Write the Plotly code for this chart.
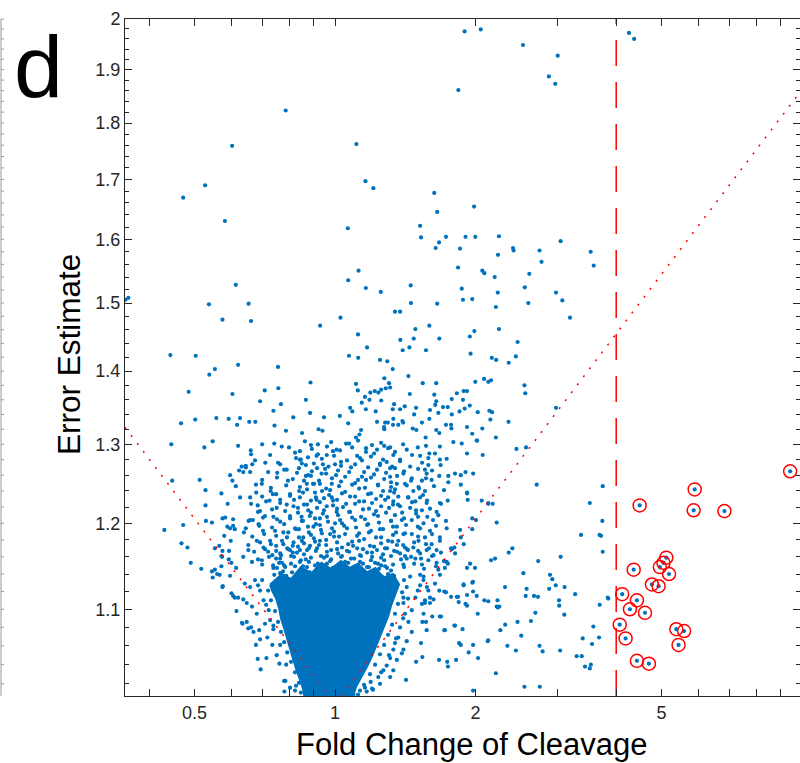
import math
import plotly.graph_objects as go

BLUE = "#0072BD"
RED = "#FF0000"
AXIS = "#262626"
FONT = "Liberation Sans, Arial, Helvetica, sans-serif"

FC_CUT = 4.0          # fold-change cut-off (dashed line)
SLOPE = 0.27          # |log err| = SLOPE * |log fc| (dotted envelope)
X_RANGE = (0.355, 9.9)
Y_RANGE = (1.0075, 2.0)

# ---- scatter data: (fold change, error estimate) ----
far_pts = [
    (9.43, 1.265), (5.89, 1.242), (4.49, 1.222), (5.86, 1.216), (6.82, 1.215),
    (5.12, 1.159), (5.05, 1.153), (4.96, 1.148), (4.36, 1.145), (5.19, 1.140),
    (4.77, 1.128), (4.93, 1.126), (4.12, 1.117), (4.43, 1.110), (4.28, 1.100),
    (4.61, 1.096), (4.07, 1.083), (5.38, 1.078), (5.59, 1.076), (4.19, 1.068),
    (5.44, 1.061), (4.43, 1.044), (4.70, 1.041), (4.26, 1.972), (4.37, 1.960),
]

upper_pts = [
    (0.473, 1.669), (0.527, 1.690), (0.602, 1.759), (0.784, 1.823), (1.111, 1.762),
    (1.162, 1.697), (1.208, 1.685), (1.631, 1.677), (1.837, 1.861), (1.894, 1.975),
    (2.051, 1.979), (2.526, 1.948), (2.998, 1.927), (2.870, 1.887), (2.962, 1.873),
]

mid_pts = [
    (0.356, 1.505), (0.361, 1.508), (0.581, 1.630), (0.613, 1.528), (0.537, 1.498),
    (0.653, 1.499), (0.574, 1.475), (0.661, 1.473), (0.444, 1.423), (0.503, 1.422),
    (0.538, 1.395), (0.553, 1.403), (0.620, 1.409), (0.486, 1.371), (0.603, 1.368),
    (0.468, 1.328), (0.502, 1.333), (0.557, 1.335), (0.592, 1.334), (0.617, 1.326),
    (0.626, 1.335), (0.655, 1.330), (0.675, 1.330), (0.691, 1.358), (0.707, 1.373),
    (0.755, 1.406), (0.756, 1.376), (0.766, 1.354), (0.738, 1.345), (0.742, 1.325),
    (0.785, 1.318), (0.814, 1.336), (0.850, 1.315), (0.866, 1.360), (0.886, 1.384),
    (0.884, 1.342), (0.929, 1.466), (0.947, 1.336), (0.922, 1.320), (0.940, 1.318),
    (1.024, 1.338), (1.027, 1.478), (1.065, 1.618), (1.067, 1.535), (1.123, 1.550),
    (1.120, 1.453), (1.171, 1.434), (1.164, 1.523), (1.253, 1.517), (1.071, 1.422),
    (1.121, 1.419), (1.109, 1.382), (1.119, 1.373), (1.077, 1.349), (1.089, 1.344),
    (1.067, 1.328), (1.109, 1.309), (1.128, 1.313), (1.137, 1.319), (1.159, 1.364),
    (1.190, 1.370), (1.185, 1.360), (1.141, 1.356), (1.164, 1.347), (1.222, 1.344),
    (1.216, 1.372), (1.238, 1.370), (1.255, 1.374), (1.256, 1.359), (1.275, 1.390),
    (1.284, 1.376), (1.305, 1.383), (1.312, 1.377), (1.248, 1.416), (1.294, 1.414),
    (1.329, 1.403), (1.338, 1.354), (1.329, 1.347), (1.280, 1.329), (1.297, 1.329),
    (1.230, 1.330), (1.273, 1.323), (1.275, 1.320), (1.333, 1.334), (1.331, 1.326),
    (1.366, 1.326), (1.394, 1.331), (1.399, 1.329), (1.378, 1.347), (1.410, 1.351),
    (1.446, 1.368), (1.436, 1.393), (1.477, 1.340), (1.491, 1.349), (1.467, 1.321),
    (1.493, 1.319), (1.535, 1.329), (1.344, 1.487), (1.378, 1.487), (1.380, 1.445),
    (1.396, 1.430), (1.443, 1.434), (1.474, 1.447), (1.486, 1.461), (1.454, 1.500),
    (1.452, 1.527), (1.521, 1.622), (1.528, 1.603), (1.655, 1.645), (1.642, 1.586),
    (1.670, 1.595), (1.728, 1.604), (1.592, 1.466), (1.566, 1.430), (1.672, 1.447),
    (1.655, 1.499), (1.541, 1.383), (1.647, 1.383), (1.631, 1.367), (1.647, 1.358),
    (1.639, 1.353), (1.597, 1.346), (1.664, 1.342), (1.703, 1.350), (1.743, 1.350),
    (1.592, 1.334), (1.563, 1.309), (1.647, 1.319), (1.672, 1.315), (1.728, 1.326),
    (1.772, 1.326), (1.778, 1.340), (1.775, 1.321), (1.778, 1.361), (1.823, 1.369),
    (1.847, 1.344), (1.885, 1.372), (1.917, 1.372), (1.879, 1.360), (1.943, 1.352),
    (1.895, 1.348), (1.917, 1.323), (1.967, 1.314), (2.021, 1.343), (2.067, 1.321),
    (2.014, 1.305), (1.997, 1.385), (2.085, 1.389), (2.129, 1.385), (2.158, 1.387),
    (2.140, 1.345), (2.169, 1.343), (2.151, 1.333), (2.210, 1.309), (2.166, 1.419),
    (2.213, 1.416), (1.951, 1.425), (1.944, 1.450), (1.988, 1.458), (1.834, 1.555),
    (1.852, 1.585), (1.868, 1.522), (1.879, 1.505), (1.967, 1.506), (1.903, 1.604),
    (1.985, 1.654), (1.997, 1.604), (2.067, 1.550), (2.088, 1.546), (2.197, 1.540),
    (2.231, 1.516), (2.210, 1.494), (2.244, 1.461), (2.233, 1.575), (2.244, 1.605),
    (2.405, 1.586), (2.412, 1.582), (2.549, 1.524), (2.593, 1.500), (2.606, 1.545),
    (2.741, 1.582), (2.768, 1.564), (2.460, 1.442), (2.439, 1.421), (2.355, 1.412),
    (2.544, 1.380), (2.555, 1.369), (2.352, 1.330), (2.446, 1.294), (2.564, 1.296),
    (2.973, 1.516), (3.067, 1.504), (3.042, 1.597), (3.185, 1.478), (3.527, 1.580),
    (3.580, 1.558), (2.973, 1.349),
]

left_halo_pts = [
    (0.446, 1.300), (0.525, 1.296), (0.547, 1.304), (0.620, 1.298), (0.448, 1.253),
    (0.431, 1.192), (0.473, 1.198), (0.469, 1.176), (0.483, 1.171), (0.491, 1.153),
    (0.517, 1.146), (0.513, 1.254), (0.528, 1.241), (0.528, 1.222), (0.529, 1.203),
    (0.545, 1.201), (0.571, 1.237), (0.589, 1.224), (0.596, 1.260), (0.613, 1.246),
    (0.623, 1.266), (0.644, 1.270), (0.574, 1.206), (0.582, 1.207), (0.588, 1.196),
    (0.605, 1.197), (0.579, 1.185), (0.598, 1.179), (0.553, 1.170), (0.571, 1.161),
    (0.553, 1.145), (0.566, 1.139), (0.575, 1.126), (0.596, 1.138), (0.614, 1.147),
    (0.610, 1.113), (0.615, 1.098), (0.632, 1.085), (0.652, 1.079), (0.660, 1.292),
    (0.661, 1.287), (0.674, 1.279), (0.626, 1.232), (0.683, 1.046), (0.693, 1.035),
    (0.713, 1.047), (0.783, 1.023), (0.779, 1.012), (0.801, 1.016),
    (0.545, 1.143), (0.559, 1.140), (0.547, 1.136), (0.574, 1.125), (0.600, 1.118),
    (0.605, 1.115), (0.620, 1.113), (0.636, 1.111), (0.634, 1.084), (0.647, 1.086),
    (0.661, 1.080), (0.669, 1.075), (0.688, 1.077), (0.691, 1.067), (0.677, 1.061),
    (0.716, 1.069), (0.734, 1.061), (0.750, 1.050), (0.760, 1.041), (0.778, 1.023),
    (0.821, 1.013), (0.647, 1.107), (0.664, 1.103), (0.680, 1.095), (0.641, 1.129),
    (0.658, 1.125), (0.674, 1.133), (0.691, 1.121), (0.703, 1.110), (0.721, 1.099),
    (0.726, 1.088), (0.708, 1.084), (0.738, 1.078),
    (0.698, 1.133), (0.719, 1.121), (0.729, 1.110), (0.744, 1.098), (0.755, 1.086),
    (0.766, 1.075), (0.778, 1.064), (0.790, 1.053), (0.805, 1.043), (0.821, 1.032),
    (0.837, 1.021), (0.845, 1.011), (0.684, 1.127), (0.712, 1.105), (0.738, 1.082),
    (0.763, 1.061), (0.786, 1.040), (0.825, 1.018),
]

right_halo_pts = [
    (2.703, 1.248), (3.512, 1.225), (3.363, 1.186), (3.685, 1.186), (2.219, 1.201),
    (2.129, 1.225), (2.061, 1.228), (2.355, 1.165), (2.397, 1.170), (2.158, 1.156),
    (2.201, 1.158), (1.946, 1.152), (1.994, 1.147), (1.917, 1.237), (1.923, 1.229),
    (1.967, 1.206), (2.004, 1.204), (1.852, 1.192), (1.834, 1.114), (1.840, 1.108),
    (1.885, 1.128), (1.974, 1.131), (1.917, 1.104), (2.021, 1.095), (2.088, 1.110),
    (2.129, 1.109), (2.228, 1.110), (2.219, 1.103), (2.231, 1.102), (2.248, 1.103),
    (2.312, 1.125), (2.314, 1.083), (2.259, 1.077), (2.128, 1.066), (2.339, 1.060),
    (2.459, 1.086), (2.505, 1.071), (2.439, 1.055), (2.531, 1.141), (2.572, 1.123),
    (2.560, 1.115), (2.667, 1.115), (2.720, 1.114), (2.723, 1.155), (2.685, 1.096),
    (2.627, 1.087), (2.741, 1.060), (2.783, 1.054), (2.886, 1.139), (2.919, 1.134),
    (2.969, 1.127), (2.874, 1.123), (3.017, 1.110), (3.020, 1.104), (3.097, 1.094),
    (3.101, 1.125), (3.042, 1.160), (3.267, 1.117), (3.034, 1.055), (3.391, 1.068),
    (3.551, 1.062), (3.574, 1.081), (3.675, 1.069), (3.292, 1.049), (3.375, 1.049),
    (3.430, 1.038), (3.512, 1.036), (3.530, 1.040), (2.210, 1.031), (2.544, 1.017),
    (2.744, 1.017), (1.975, 1.013), (1.933, 1.053), (2.024, 1.047), (1.739, 1.043),
    (1.745, 1.038), (1.816, 1.045), (1.843, 1.063), (1.859, 1.061), (1.801, 1.082),
    (1.875, 1.078), (1.714, 1.077), (1.670, 1.045), (1.686, 1.092), (1.615, 1.092),
    (1.538, 1.086), (1.528, 1.063), (1.491, 1.043), (1.419, 1.024), (1.538, 1.048),
    (1.772, 1.114), (1.823, 1.114), (1.714, 1.120), (1.672, 1.121), (1.573, 1.125),
    (1.558, 1.107), (1.625, 1.111), (1.744, 1.152), (1.719, 1.147), (1.710, 1.155),
    (1.664, 1.145), (1.772, 1.170), (1.801, 1.171), (1.859, 1.183), (1.967, 1.193),
    (3.743, 1.246), (3.736, 1.203), (3.712, 1.185), (3.743, 1.166), (3.837, 1.113),
    (3.848, 1.112), (3.688, 1.105),
    (1.677, 1.139), (1.885, 1.127), (1.968, 1.130), (1.917, 1.116), (1.975, 1.120),
    (2.011, 1.115), (1.903, 1.106), (1.728, 1.119), (1.597, 1.113), (1.677, 1.092),
    (1.807, 1.082), (1.719, 1.077), (1.975, 1.061), (2.123, 1.065), (1.571, 1.077),
    (1.566, 1.086), (1.547, 1.095), (1.597, 1.107), (1.535, 1.106), (1.558, 1.110),
    (1.584, 1.121), (1.521, 1.127), (1.637, 1.129), (1.547, 1.137), (1.521, 1.139),
    (1.436, 1.086), (1.460, 1.075), (1.424, 1.065), (1.401, 1.056), (1.390, 1.052),
    (1.356, 1.045), (1.333, 1.034), (1.312, 1.027), (1.248, 1.020), (1.206, 1.014),
    (1.169, 1.012), (1.401, 1.107), (1.460, 1.099), (1.486, 1.113), (1.504, 1.121),
    (1.547, 1.133), (1.378, 1.080), (1.366, 1.069), (1.344, 1.063), (1.333, 1.056),
    (1.312, 1.047), (1.290, 1.039), (1.269, 1.034), (1.238, 1.027), (1.192, 1.022),
    (1.159, 1.016), (1.131, 1.013), (1.095, 1.009), (1.424, 1.125), (1.448, 1.137),
    (1.401, 1.113), (1.412, 1.095),
    (1.405, 1.133), (1.392, 1.119), (1.364, 1.106), (1.344, 1.095), (1.325, 1.083),
    (1.299, 1.072), (1.274, 1.061), (1.248, 1.051), (1.218, 1.040), (1.188, 1.030),
    (1.154, 1.019), (1.120, 1.009), (1.433, 1.112), (1.399, 1.090), (1.351, 1.068),
    (1.305, 1.050), (1.255, 1.032), (1.200, 1.015),
]

upper_halo_pts = [
    (0.709, 1.276), (0.741, 1.301), (0.769, 1.297), (0.631, 1.271), (0.644, 1.272),
    (0.665, 1.274), (0.636, 1.264), (0.658, 1.264), (0.603, 1.253), (0.605, 1.205),
    (0.596, 1.194), (0.610, 1.193), (0.565, 1.173), (0.574, 1.167), (0.593, 1.167),
    (0.573, 1.160), (0.592, 1.157), (0.600, 1.153), (0.571, 1.149), (0.638, 1.189),
    (0.653, 1.203), (0.667, 1.204), (0.686, 1.199), (0.701, 1.191), (0.708, 1.209),
    (0.691, 1.215), (0.683, 1.222), (0.658, 1.232), (0.678, 1.238), (0.697, 1.249),
    (0.728, 1.240), (0.763, 1.274), (0.752, 1.263), (0.788, 1.267), (0.793, 1.253),
    (0.825, 1.282), (0.841, 1.280), (0.866, 1.273), (0.876, 1.260), (0.901, 1.275),
    (0.913, 1.285), (0.960, 1.286), (0.968, 1.271), (0.936, 1.262), (1.000, 1.274),
    (1.008, 1.293), (0.902, 1.249), (0.870, 1.249), (0.838, 1.240), (0.801, 1.236),
    (0.763, 1.229), (0.736, 1.236), (0.724, 1.228), (0.750, 1.219), (0.788, 1.223),
    (0.815, 1.221), (0.801, 1.206), (0.763, 1.202), (0.738, 1.208), (0.744, 1.191),
    (0.775, 1.189), (0.821, 1.194), (0.848, 1.208), (0.876, 1.216), (0.913, 1.229),
    (0.938, 1.240), (0.984, 1.249), (0.984, 1.232), (0.960, 1.221), (0.928, 1.206),
    (0.899, 1.196), (0.855, 1.183), (0.815, 1.177), (0.775, 1.175), (0.726, 1.179),
    (0.703, 1.171), (0.680, 1.179), (0.652, 1.168), (0.636, 1.160), (0.664, 1.154),
    (0.697, 1.156), (0.734, 1.162), (0.763, 1.164), (0.801, 1.168), (0.841, 1.168),
    (0.884, 1.173), (0.928, 1.179), (0.976, 1.187), (1.000, 1.200), (1.008, 1.214),
    (1.504, 1.296), (1.566, 1.298), (1.677, 1.297), (1.792, 1.303), (1.868, 1.301),
    (2.011, 1.305), (1.917, 1.288), (2.071, 1.286), (1.592, 1.288), (1.637, 1.288),
    (1.521, 1.285), (1.584, 1.282), (1.677, 1.280), (1.734, 1.281), (1.584, 1.273),
    (1.558, 1.267), (1.683, 1.273), (1.807, 1.262), (1.903, 1.264), (1.976, 1.262),
    (1.859, 1.260), (1.748, 1.259), (1.672, 1.259), (1.610, 1.254), (1.748, 1.251),
    (1.859, 1.248), (1.711, 1.241), (1.917, 1.238), (1.743, 1.228), (1.677, 1.225),
    (1.650, 1.214), (1.664, 1.210), (1.728, 1.203), (1.734, 1.194), (2.176, 1.224),
    (2.129, 1.224), (1.886, 1.175), (1.778, 1.169), (1.807, 1.164), (1.677, 1.183),
    (1.650, 1.168), (1.917, 1.147), (1.734, 1.154),
    (1.571, 1.262), (1.535, 1.253), (1.509, 1.245), (1.558, 1.240), (1.521, 1.232),
    (1.571, 1.225), (1.535, 1.216), (1.576, 1.208), (1.547, 1.200), (1.597, 1.191),
    (1.558, 1.183), (1.610, 1.175), (1.571, 1.168), (1.625, 1.162), (1.584, 1.156),
    (1.650, 1.153), (1.424, 1.293), (1.378, 1.280), (1.448, 1.271), (1.401, 1.262),
    (1.460, 1.256), (1.424, 1.247), (1.471, 1.240), (1.436, 1.232), (1.486, 1.227),
    (1.448, 1.219), (1.491, 1.212), (1.460, 1.204), (1.504, 1.196), (1.460, 1.187),
    (1.509, 1.179), (1.471, 1.171), (1.521, 1.164), (1.486, 1.158), (1.535, 1.151),
    (1.312, 1.296), (1.333, 1.286), (1.290, 1.277), (1.344, 1.269), (1.312, 1.258),
    (1.356, 1.249), (1.312, 1.240), (1.366, 1.233), (1.333, 1.227), (1.378, 1.221),
    (1.344, 1.210), (1.390, 1.204), (1.356, 1.196), (1.401, 1.187), (1.366, 1.179),
    (1.412, 1.171), (1.378, 1.164), (1.424, 1.158), (1.401, 1.151),
]

# crowded band above the saturated core, one row of (fold changes, errors) per line
band_rows = [
    ([0.862, 0.919, 0.981, 1.056, 1.120, 1.200, 1.255],
     [1.304, 1.300, 1.303, 1.301, 1.305, 1.299, 1.302]),
    ([0.698, 0.797, 0.888, 0.961, 1.072, 1.165, 1.274, 1.399],
     [1.300, 1.296, 1.299, 1.297, 1.301, 1.295, 1.298, 1.300]),
    ([0.841, 0.892, 1.025, 1.088, 1.165, 1.230, 1.299],
     [1.291, 1.294, 1.292, 1.296, 1.290, 1.293, 1.295]),
    ([0.726, 0.821, 0.919, 0.990, 1.115, 1.212, 1.344, 1.462],
     [1.286, 1.289, 1.287, 1.291, 1.285, 1.288, 1.290, 1.286]),
    ([0.875, 0.937, 0.995, 1.061, 1.131, 1.194, 1.267],
     [1.283, 1.281, 1.285, 1.279, 1.282, 1.284, 1.280]),
    ([0.755, 0.845, 0.942, 1.030, 1.142, 1.248, 1.378, 1.536],
     [1.276, 1.280, 1.274, 1.277, 1.279, 1.275, 1.278, 1.276]),
    ([0.849, 0.915, 1.030, 1.104, 1.177, 1.248, 1.325],
     [1.275, 1.269, 1.272, 1.274, 1.270, 1.273, 1.271]),
    ([0.719, 0.778, 0.837, 0.892, 0.952, 1.015, 1.082, 1.154, 1.230, 1.312, 1.405,
      1.506, 1.613],
     [1.264, 1.267, 1.269, 1.265, 1.268, 1.266, 1.270, 1.264, 1.267, 1.269, 1.265,
      1.268, 1.266]),
    ([0.829, 0.888, 0.957, 1.005, 1.072, 1.142, 1.212, 1.286],
     [1.263, 1.259, 1.262, 1.260, 1.264, 1.258, 1.261, 1.263]),
    ([0.698, 0.751, 0.812, 0.866, 0.924, 0.985, 1.051, 1.120, 1.194, 1.274, 1.358,
      1.455, 1.566],
     [1.254, 1.257, 1.255, 1.259, 1.253, 1.256, 1.258, 1.254, 1.257, 1.255, 1.259,
      1.253, 1.256]),
    ([0.858, 0.928, 1.030, 1.104, 1.165, 1.236, 1.318],
     [1.253, 1.249, 1.252, 1.250, 1.254, 1.248, 1.251]),
    ([0.677, 0.729, 0.786, 0.841, 0.897, 0.957, 1.020, 1.088, 1.159, 1.236, 1.318,
      1.412, 1.513, 1.629],
     [1.248, 1.244, 1.247, 1.245, 1.249, 1.243, 1.246, 1.248, 1.244, 1.247, 1.245,
      1.249, 1.243, 1.246]),
    ([0.871, 0.906, 0.976, 1.051, 1.126, 1.194, 1.267, 1.344],
     [1.242, 1.238, 1.241, 1.239, 1.243, 1.237, 1.240, 1.242]),
    ([0.698, 0.748, 0.801, 0.854, 0.910, 0.971, 1.035, 1.104, 1.177, 1.255, 1.338,
      1.433, 1.543],
     [1.233, 1.236, 1.234, 1.238, 1.232, 1.235, 1.237, 1.233, 1.236, 1.234, 1.238,
      1.232, 1.235]),
    ([0.841, 0.888, 0.947, 1.010, 1.077, 1.154, 1.224, 1.299],
     [1.232, 1.228, 1.231, 1.229, 1.233, 1.227, 1.230, 1.232]),
    ([0.661, 0.712, 0.763, 0.817, 0.871, 0.928, 0.990, 1.056, 1.126, 1.200, 1.280,
      1.364, 1.462, 1.574, 1.686],
     [1.224, 1.227, 1.225, 1.229, 1.223, 1.226, 1.228, 1.224, 1.227, 1.225, 1.229,
      1.223, 1.226, 1.228, 1.224]),
    ([0.858, 0.915, 0.990, 1.040, 1.104, 1.182, 1.255, 1.331],
     [1.223, 1.219, 1.222, 1.220, 1.224, 1.218, 1.221, 1.223]),
    ([0.684, 0.733, 0.782, 0.833, 0.888, 0.947, 1.010, 1.077, 1.148, 1.224, 1.305,
      1.392, 1.491, 1.597],
     [1.214, 1.217, 1.215, 1.219, 1.213, 1.216, 1.218, 1.214, 1.217, 1.215, 1.219,
      1.213, 1.216, 1.218]),
    ([0.833, 0.883, 0.942, 1.015, 1.072, 1.137, 1.212, 1.286],
     [1.213, 1.209, 1.212, 1.210, 1.214, 1.208, 1.211, 1.213]),
    ([0.658, 0.701, 0.751, 0.801, 0.849, 0.906, 0.961, 1.025, 1.088, 1.159, 1.236,
      1.318, 1.405, 1.506, 1.621],
     [1.204, 1.207, 1.205, 1.209, 1.203, 1.206, 1.208, 1.204, 1.207, 1.205, 1.209,
      1.203, 1.206, 1.208, 1.204]),
    ([0.854, 0.910, 0.966, 1.035, 1.104, 1.171, 1.242, 1.318],
     [1.203, 1.199, 1.202, 1.200, 1.204, 1.198, 1.201, 1.203]),
    ([0.644, 0.688, 0.733, 0.778, 0.825, 0.875, 0.928, 0.985, 1.046, 1.109, 1.177,
      1.248, 1.331, 1.419, 1.521, 1.645],
     [1.194, 1.197, 1.195, 1.199, 1.193, 1.196, 1.198, 1.194, 1.197, 1.195, 1.199,
      1.193, 1.196, 1.198, 1.194, 1.197]),
    ([0.837, 0.879, 0.933, 0.995, 1.061, 1.126, 1.194, 1.267, 1.351],
     [1.193, 1.189, 1.192, 1.190, 1.194, 1.188, 1.191, 1.193, 1.189]),
    ([0.665, 0.705, 0.748, 0.794, 0.837, 0.888, 0.937, 0.995, 1.051, 1.115, 1.182,
      1.255, 1.331, 1.412, 1.506, 1.613],
     [1.184, 1.187, 1.185, 1.189, 1.183, 1.186, 1.188, 1.184, 1.187, 1.185, 1.189,
      1.183, 1.186, 1.188, 1.184, 1.187]),
    ([0.789, 0.849, 0.901, 0.957, 1.020, 1.088, 1.154, 1.224, 1.299],
     [1.183, 1.179, 1.182, 1.180, 1.184, 1.178, 1.181, 1.183, 1.179]),
    ([0.652, 0.691, 0.729, 0.770, 0.812, 0.858, 0.906, 0.957, 1.010, 1.067, 1.126,
      1.188, 1.255, 1.325, 1.399, 1.477, 1.566, 1.677],
     [1.174, 1.177, 1.175, 1.179, 1.173, 1.176, 1.178, 1.174, 1.177, 1.175, 1.179,
      1.173, 1.176, 1.178, 1.174, 1.177, 1.175, 1.179]),
    ([0.748, 0.794, 0.833, 0.879, 0.924, 0.981, 1.035, 1.093, 1.148, 1.212, 1.280,
      1.357, 1.433],
     [1.173, 1.169, 1.172, 1.170, 1.174, 1.168, 1.171, 1.173, 1.169, 1.172, 1.170,
      1.174, 1.168]),
    ([0.671, 0.708, 0.748, 0.790, 0.829, 0.871, 0.915, 0.961, 1.010, 1.061, 1.115,
      1.171, 1.230, 1.292, 1.358, 1.426, 1.506, 1.589, 1.686],
     [1.166, 1.169, 1.167, 1.170, 1.165, 1.168, 1.170, 1.166, 1.169, 1.167, 1.170,
      1.165, 1.168, 1.170, 1.166, 1.169, 1.167, 1.170, 1.165]),
    ([0.719, 0.766, 0.812, 0.858, 0.910, 0.961, 1.015, 1.072, 1.131, 1.200, 1.267,
      1.338, 1.412],
     [1.166, 1.162, 1.165, 1.163, 1.167, 1.161, 1.164, 1.166, 1.162, 1.165, 1.163,
      1.167, 1.161]),
    ([0.684, 0.722, 0.763, 0.805, 0.845, 0.888, 0.933, 0.981, 1.030, 1.082, 1.137,
      1.194, 1.255, 1.318, 1.385, 1.455, 1.528, 1.613],
     [1.157, 1.160, 1.158, 1.161, 1.156, 1.159, 1.161, 1.157, 1.160, 1.158, 1.161,
      1.156, 1.159, 1.161, 1.157, 1.160, 1.158, 1.161]),
    ([0.748, 0.770, 0.817, 0.841, 0.866, 0.919, 0.947, 0.976, 1.035, 1.067, 1.099,
      1.131, 1.200, 1.236, 1.274],
     [1.158, 1.153, 1.160, 1.154, 1.157, 1.152, 1.159, 1.155, 1.161, 1.153, 1.158,
      1.154, 1.160, 1.152, 1.156]),
    ([0.737, 0.759, 0.782, 0.805, 0.854, 0.879, 0.906, 0.961, 0.990, 1.020, 1.051,
      1.115, 1.148, 1.182, 1.218, 1.255, 1.292, 1.331],
     [1.150, 1.153, 1.148, 1.152, 1.149, 1.154, 1.150, 1.152, 1.147, 1.151, 1.154,
      1.149, 1.152, 1.148, 1.153, 1.150, 1.147, 1.151]),
    ([0.698, 0.738, 0.778, 1.405, 1.477, 1.551, 1.645],
     [1.151, 1.147, 1.150, 1.148, 1.152, 1.146, 1.149]),
    ([0.751, 0.774, 0.821, 0.845, 0.871, 0.924, 0.952, 0.981, 1.010, 1.040, 1.104,
      1.137, 1.171, 1.206, 1.242, 1.280, 1.318],
     [1.147, 1.143, 1.149, 1.144, 1.148, 1.145, 1.150, 1.143, 1.147, 1.145, 1.149,
      1.144, 1.148, 1.143, 1.146, 1.149, 1.144]),
    ([0.741, 0.763, 0.786, 0.809, 0.833, 0.858, 0.883, 0.910, 0.937, 0.966, 0.995,
      1.025, 1.056, 1.088, 1.120, 1.154, 1.188, 1.224, 1.261, 1.299, 1.338],
     [1.139, 1.141, 1.138, 1.142, 1.137, 1.140, 1.142, 1.138, 1.141, 1.139, 1.142,
      1.137, 1.140, 1.142, 1.138, 1.141, 1.139, 1.142, 1.137, 1.140, 1.138]),
]

# outline of the fully saturated core of the cloud
core_fc = [0.726, 0.770, 0.805, 0.845, 0.890, 0.935, 0.980, 1.030, 1.075, 1.120,
           1.170, 1.220, 1.270, 1.330, 1.371,
           1.364, 1.338, 1.318, 1.299, 1.274, 1.248, 1.224, 1.200, 1.171, 1.142,
           1.109, 1.088,
           0.862, 0.854, 0.837, 0.825, 0.812, 0.801, 0.790, 0.778, 0.766, 0.759,
           0.748, 0.733, 0.726]
core_err = [1.128, 1.140, 1.134, 1.148, 1.141, 1.153, 1.146, 1.155, 1.147, 1.152,
            1.142, 1.147, 1.136, 1.140, 1.128,
            1.125, 1.114, 1.104, 1.092, 1.081, 1.070, 1.058, 1.049, 1.038, 1.028,
            1.017, 1.004,
            1.004, 1.015, 1.026, 1.036, 1.047, 1.058, 1.068, 1.079, 1.090, 1.101,
            1.112, 1.121, 1.128]

x_tickvals = [0.4, 0.5, 0.6, 0.7, 0.8, 0.9, 1, 2, 3, 4, 5, 6, 7, 8, 9]
x_ticktext = ["", "0.5", "", "", "", "", "1", "2", "", "", "5", "", "", "", ""]
y_tickvals = [1.1, 1.2, 1.3, 1.4, 1.5, 1.6, 1.7, 1.8, 1.9, 2.0]
y_ticktext = ["1.1", "1.2", "1.3", "1.4", "1.5", "1.6", "1.7", "1.8", "1.9", "2"]
y_minorvals = [round(1.0 + 0.02 * k, 2) for k in range(1, 50) if k % 5 != 0]

# ---- assemble ----
points = far_pts + upper_pts + mid_pts + left_halo_pts + right_halo_pts + upper_halo_pts
for row_fc, row_err in band_rows:
    points += list(zip(row_fc, row_err))
fc = [p[0] for p in points]
err = [p[1] for p in points]

# hits: beyond the fold-change cut-off and under the error envelope
hits = [(f, e) for f, e in points if f > FC_CUT and e < f ** SLOPE]
hit_fc = [h[0] for h in hits]
hit_err = [h[1] for h in hits]

fig = go.Figure()

fig.add_trace(go.Scatter(
    x=core_fc, y=core_err, mode="lines", fill="toself",
    fillcolor=BLUE, line=dict(color=BLUE, width=2), hoverinfo="skip",
))
fig.add_trace(go.Scatter(
    x=fc, y=err, mode="markers",
    marker=dict(color=BLUE, size=4.2, line=dict(width=0)),
))
# error envelope
fig.add_trace(go.Scatter(
    x=[X_RANGE[0], 1.0], y=[X_RANGE[0] ** -SLOPE, 1.0], mode="lines",
    line=dict(color=RED, width=1.5, dash="2px,8px"), hoverinfo="skip",
))
fig.add_trace(go.Scatter(
    x=[1.0, X_RANGE[1]], y=[1.0, X_RANGE[1] ** SLOPE], mode="lines",
    line=dict(color=RED, width=1.5, dash="2px,8px"), hoverinfo="skip",
))
# fold-change cut-off
fig.add_trace(go.Scatter(
    x=[FC_CUT, FC_CUT], y=[Y_RANGE[0], Y_RANGE[1]], mode="lines",
    line=dict(color=RED, width=1.5, dash="26px,16px"), hoverinfo="skip",
))
fig.add_trace(go.Scatter(
    x=hit_fc, y=hit_err, mode="markers",
    marker=dict(symbol="circle-open", size=13, color=RED, line=dict(width=1.5)),
))

L, R, T, B = 125, 0, 19, 67
W, H = 800, 763

axis_common = dict(
    type="log", showgrid=False, zeroline=False, showline=True, linecolor=AXIS,
    linewidth=1, mirror="allticks", ticks="inside", tickcolor=AXIS, tickwidth=1,
    tickfont=dict(family=FONT, size=18, color=AXIS),
)
fig.update_xaxes(
    **axis_common,
    range=[math.log10(X_RANGE[0]), math.log10(X_RANGE[1])],
    tickmode="array", tickvals=x_tickvals, ticktext=x_ticktext, ticklen=7,
)
fig.update_yaxes(
    **axis_common,
    range=[math.log10(Y_RANGE[0]), math.log10(Y_RANGE[1])],
    tickmode="array", tickvals=y_tickvals, ticktext=y_ticktext, ticklen=7,
    minor=dict(tickmode="array", tickvals=y_minorvals, ticks="inside", ticklen=4,
               tickcolor=AXIS, showgrid=False),
)

pw = W - L - R
ph = H - T - B


def px_x(px):
    return (px - L) / pw


def py_y(py):
    return (H - B - py) / ph


annotations = [
    dict(text="d", x=px_x(38.5), y=py_y(67), xref="paper", yref="paper",
         showarrow=False, font=dict(family=FONT, size=88, color="black"),
         xanchor="center", yanchor="middle"),
    dict(text="Error Estimate", x=px_x(69), y=py_y(355), xref="paper", yref="paper",
         showarrow=False, textangle=-90, font=dict(family=FONT, size=31.5, color="black"),
         xanchor="center", yanchor="middle"),
    dict(text="Fold Change of Cleavage", x=px_x(472), y=py_y(744), xref="paper",
         yref="paper", showarrow=False, font=dict(family=FONT, size=31, color="black"),
         xanchor="center", yanchor="middle"),
]

# right-hand axis of the neighbouring panel, visible at the left edge
lo, hi = math.log10(Y_RANGE[0]), math.log10(Y_RANGE[1])
shapes = [dict(type="line", xref="paper", yref="paper", x0=px_x(1), x1=px_x(1),
               y0=0, y1=1, line=dict(color="#9a9a9a", width=1))]
for v in y_tickvals + y_minorvals:
    yp = (math.log10(v) - lo) / (hi - lo)
    shapes.append(dict(type="line", xref="paper", yref="paper", x0=px_x(1),
                       x1=px_x(4), y0=yp, y1=yp, line=dict(color="#9a9a9a", width=1)))

fig.update_layout(
    width=W, height=H, margin=dict(l=L, r=R, t=T, b=B),
    plot_bgcolor="white", paper_bgcolor="white", showlegend=False,
    annotations=annotations, shapes=shapes,
)

fig.write_html("out.html")
